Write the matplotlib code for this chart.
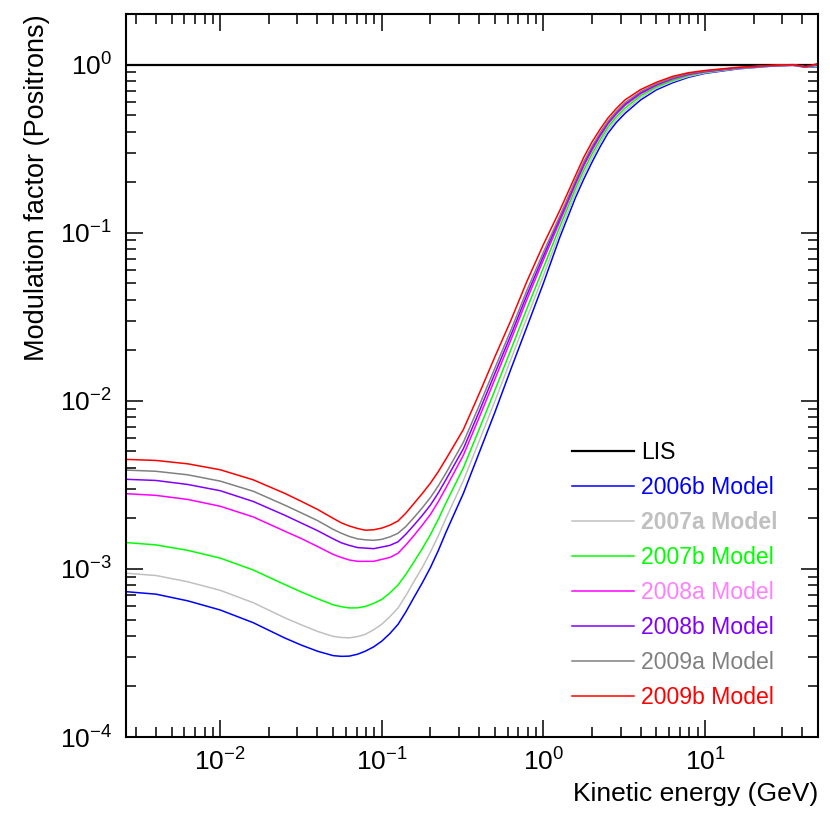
import matplotlib
matplotlib.use("Agg")
import matplotlib.pyplot as plt
from matplotlib.ticker import LogLocator, NullFormatter

# === DATA ===
energy = [0.0025, 0.004, 0.0063, 0.01, 0.016, 0.025, 0.0316, 0.04, 0.05, 0.0562,
          0.063, 0.0708, 0.079, 0.0891, 0.1, 0.112, 0.126, 0.141, 0.158, 0.178,
          0.2, 0.224, 0.25, 0.32, 0.4, 0.5, 0.63, 0.79, 1.0, 1.26,
          1.58, 1.78, 2.0, 2.24, 2.5, 2.82, 3.2, 4.0, 5.0, 6.3,
          7.9, 10, 16, 25, 35, 42, 50]

lis_energy = [0.0025, 50]
lis_values = [1.0, 1.0]

mod_2006b = [7.35e-4, 7.08e-4, 6.46e-4, 5.70e-4, 4.79e-4, 3.89e-4, 3.53e-4, 3.24e-4, 3.05e-4, 3.02e-4,
             3.03e-4, 3.11e-4, 3.24e-4, 3.44e-4, 3.72e-4, 4.12e-4, 4.68e-4, 5.56e-4, 6.76e-4, 8.26e-4,
             1.02e-3, 1.29e-3, 1.66e-3, 2.82e-3, 4.90e-3, 8.51e-3, 1.55e-2, 2.75e-2, 5.01e-2, 9.33e-2,
             0.162, 0.209, 0.263, 0.324, 0.389, 0.452, 0.513, 0.617, 0.708, 0.780,
             0.841, 0.887, 0.944, 0.977, 0.991, 0.964, 0.973]
mod_2007a = [9.46e-4, 9.14e-4, 8.39e-4, 7.46e-4, 6.30e-4, 5.13e-4, 4.66e-4, 4.25e-4, 3.97e-4, 3.91e-4,
             3.89e-4, 3.96e-4, 4.08e-4, 4.35e-4, 4.69e-4, 5.19e-4, 5.86e-4, 6.95e-4, 8.41e-4, 1.02e-3,
             1.26e-3, 1.58e-3, 2.01e-3, 3.36e-3, 5.75e-3, 9.91e-3, 1.77e-2, 3.12e-2, 5.57e-2, 0.100,
             0.172, 0.222, 0.278, 0.340, 0.406, 0.470, 0.532, 0.634, 0.723, 0.794,
             0.851, 0.893, 0.948, 0.979, 0.993, 0.966, 0.980]
mod_2007b = [1.44e-3, 1.39e-3, 1.29e-3, 1.16e-3, 9.86e-4, 8.09e-4, 7.31e-4, 6.65e-4, 6.12e-4, 5.96e-4,
             5.86e-4, 5.87e-4, 5.98e-4, 6.24e-4, 6.59e-4, 7.19e-4, 8.02e-4, 9.29e-4, 1.10e-3, 1.32e-3,
             1.60e-3, 1.98e-3, 2.48e-3, 4.00e-3, 6.76e-3, 1.15e-2, 2.02e-2, 3.53e-2, 6.19e-2, 0.108,
             0.183, 0.236, 0.294, 0.356, 0.423, 0.488, 0.552, 0.653, 0.738, 0.807,
             0.863, 0.902, 0.953, 0.982, 0.995, 0.968, 0.989]
mod_2008a = [2.81e-3, 2.74e-3, 2.59e-3, 2.36e-3, 2.04e-3, 1.68e-3, 1.52e-3, 1.36e-3, 1.22e-3, 1.17e-3,
             1.13e-3, 1.11e-3, 1.11e-3, 1.11e-3, 1.14e-3, 1.17e-3, 1.24e-3, 1.39e-3, 1.58e-3, 1.82e-3,
             2.11e-3, 2.52e-3, 3.05e-3, 4.76e-3, 7.94e-3, 1.34e-2, 2.31e-2, 4.00e-2, 6.89e-2, 0.116,
             0.194, 0.250, 0.310, 0.374, 0.441, 0.507, 0.573, 0.671, 0.753, 0.822,
             0.873, 0.908, 0.955, 0.984, 0.995, 0.968, 0.998]
mod_2008b = [3.42e-3, 3.36e-3, 3.18e-3, 2.92e-3, 2.52e-3, 2.09e-3, 1.88e-3, 1.69e-3, 1.51e-3, 1.43e-3,
             1.38e-3, 1.34e-3, 1.33e-3, 1.32e-3, 1.35e-3, 1.38e-3, 1.45e-3, 1.61e-3, 1.82e-3, 2.08e-3,
             2.40e-3, 2.84e-3, 3.41e-3, 5.20e-3, 8.61e-3, 1.45e-2, 2.47e-2, 4.26e-2, 7.26e-2, 0.121,
             0.200, 0.258, 0.319, 0.383, 0.450, 0.516, 0.583, 0.681, 0.760, 0.830,
             0.879, 0.912, 0.957, 0.984, 0.998, 0.971, 1.002]
mod_2009a = [3.88e-3, 3.81e-3, 3.63e-3, 3.33e-3, 2.90e-3, 2.40e-3, 2.16e-3, 1.94e-3, 1.72e-3, 1.63e-3,
             1.56e-3, 1.51e-3, 1.49e-3, 1.48e-3, 1.50e-3, 1.55e-3, 1.63e-3, 1.79e-3, 2.02e-3, 2.31e-3,
             2.66e-3, 3.13e-3, 3.73e-3, 5.68e-3, 9.33e-3, 1.56e-2, 2.64e-2, 4.53e-2, 7.66e-2, 0.125,
             0.206, 0.265, 0.328, 0.393, 0.459, 0.526, 0.594, 0.692, 0.769, 0.836,
             0.885, 0.916, 0.959, 0.986, 0.998, 0.971, 1.005]
mod_2009b = [4.49e-3, 4.42e-3, 4.22e-3, 3.89e-3, 3.39e-3, 2.82e-3, 2.53e-3, 2.26e-3, 2.00e-3, 1.88e-3,
             1.80e-3, 1.74e-3, 1.70e-3, 1.71e-3, 1.75e-3, 1.82e-3, 1.93e-3, 2.15e-3, 2.45e-3, 2.81e-3,
             3.24e-3, 3.80e-3, 4.52e-3, 6.76e-3, 1.10e-2, 1.82e-2, 3.02e-2, 5.13e-2, 8.51e-2, 0.135,
             0.219, 0.282, 0.347, 0.412, 0.479, 0.547, 0.617, 0.711, 0.785, 0.851,
             0.895, 0.923, 0.964, 0.989, 1.0, 0.973, 1.014]

# label, values, line colour, label colour, label weight
series = [
    ("2006b Model", mod_2006b, "#0000ff", "#0000ff", "normal"),
    ("2007a Model", mod_2007a, "#c0c0c0", "#c0c0c0", "bold"),
    ("2007b Model", mod_2007b, "#00ff00", "#00ff00", "normal"),
    ("2008a Model", mod_2008a, "#ff00ff", "#ff80ff", "normal"),
    ("2008b Model", mod_2008b, "#8000ff", "#8000ff", "normal"),
    ("2009a Model", mod_2009a, "#808080", "#808080", "normal"),
    ("2009b Model", mod_2009b, "#ff0000", "#ff0000", "normal"),
]

# === STYLE ===
plt.rcParams['font.family'] = ['Liberation Sans', 'DejaVu Sans']
plt.rcParams['mathtext.fontset'] = 'custom'
plt.rcParams['mathtext.rm'] = 'Liberation Sans'
plt.rcParams['mathtext.it'] = 'Liberation Sans'
plt.rcParams['mathtext.default'] = 'regular'

fig = plt.figure(figsize=(8.3, 8.3), dpi=100)
ax = fig.add_axes([0.1514, 0.1120, 0.8341, 0.8711])

ax.plot(lis_energy, lis_values, color="black", lw=1.6, label="LIS")
for name, vals, col, _, _ in series:
    ax.plot(energy, vals, color=col, lw=1.1, label=name)

ax.set_xscale("log")
ax.set_yscale("log")
ax.set_xlim(2.6e-3, 50)
ax.set_ylim(1e-4, 2)

ax.xaxis.set_major_locator(LogLocator(base=10, numticks=10))
ax.yaxis.set_major_locator(LogLocator(base=10, numticks=10))
ax.xaxis.set_minor_locator(LogLocator(base=10, subs=range(2, 10), numticks=20))
ax.yaxis.set_minor_locator(LogLocator(base=10, subs=range(2, 10), numticks=20))
ax.xaxis.set_minor_formatter(NullFormatter())
ax.yaxis.set_minor_formatter(NullFormatter())

ax.tick_params(which="both", direction="in", top=True, right=True, width=1.1)
ax.tick_params(which="major", length=12, labelsize=19)
ax.tick_params(which="minor", length=7)
ax.tick_params(axis="y", which="major", pad=10)
ax.tick_params(axis="x", which="major", pad=8)
for s in ax.spines.values():
    s.set_linewidth(1.5)

ax.set_xlabel("Kinetic energy (GeV)", fontsize=19, loc="right", labelpad=5)
ax.set_ylabel("Modulation factor (Positrons)", fontsize=19.5, loc="top", labelpad=7)

leg = ax.legend(loc="upper left", bbox_to_anchor=(0.645, 0.4095), frameon=False,
                fontsize=16.6, handlelength=2.7, handletextpad=0.28,
                labelspacing=0.52, borderpad=0, borderaxespad=0)
text_styles = [("black", "normal")] + [(tc, fw) for _, _, _, tc, fw in series]
for txt, (tc, fw) in zip(leg.get_texts(), text_styles):
    txt.set_color(tc)
    txt.set_fontweight(fw)

fig.savefig("out.png", dpi=100)
